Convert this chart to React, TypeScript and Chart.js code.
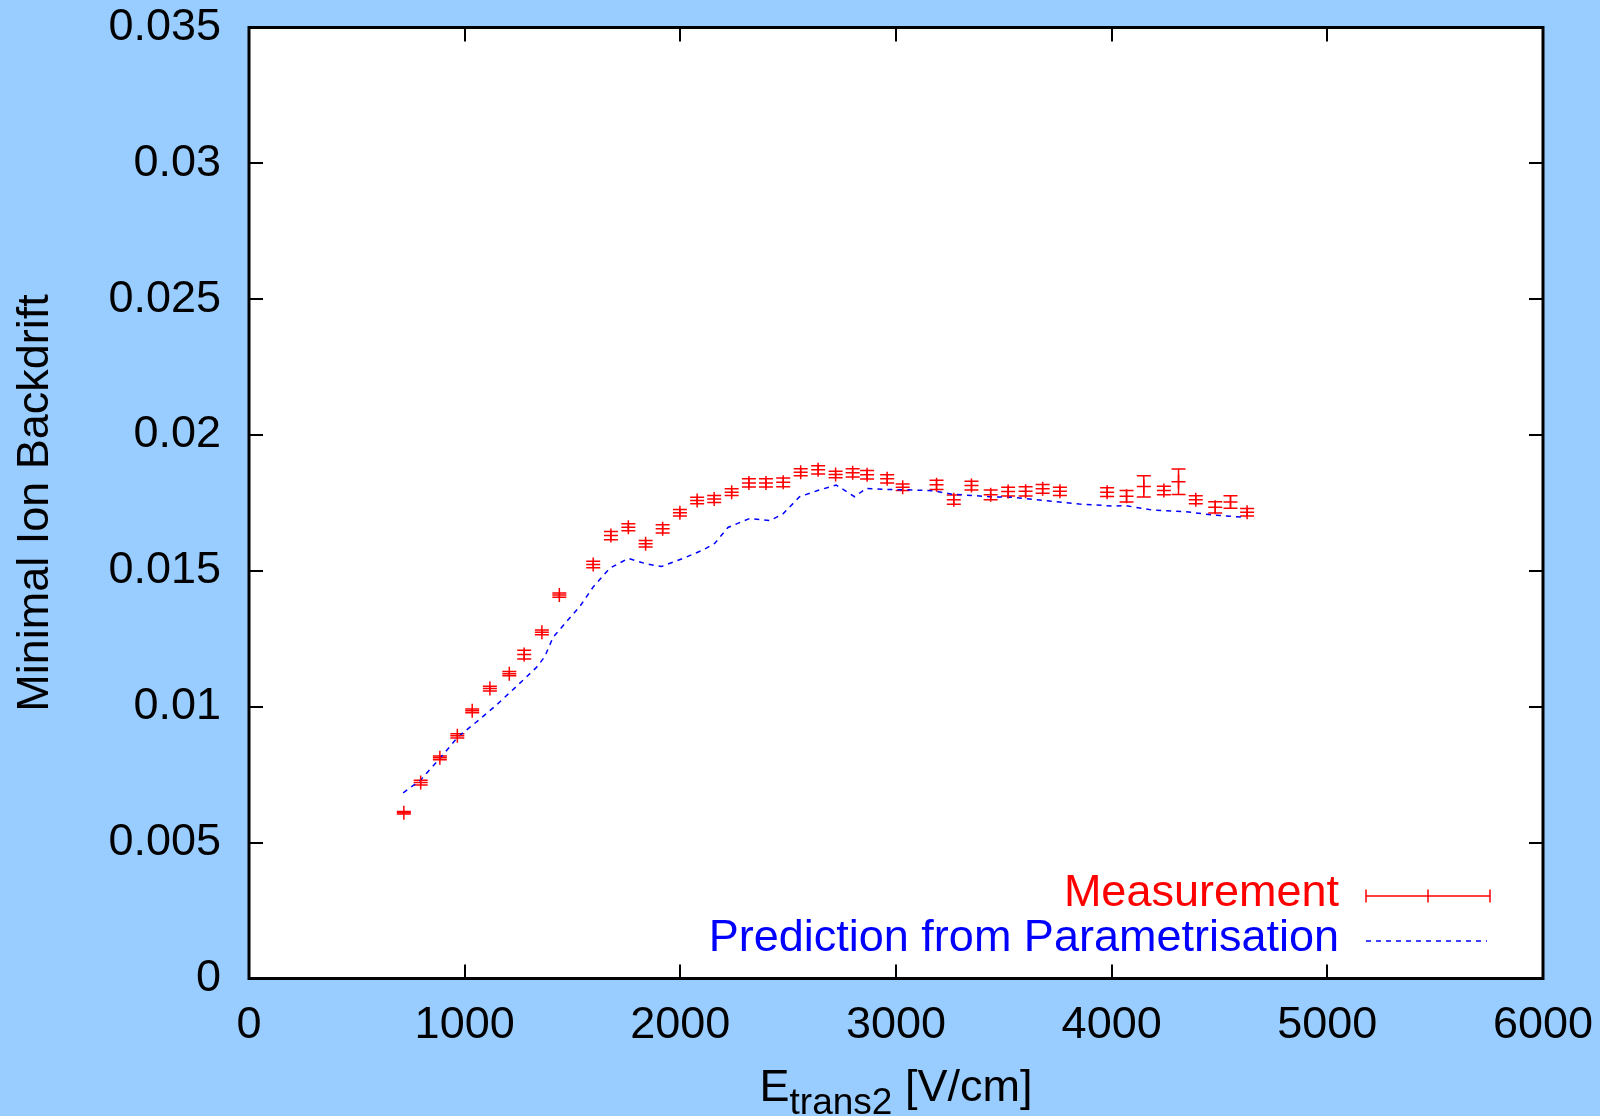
import React, { useEffect, useRef } from "react";
import { Chart, registerables } from "chart.js";

Chart.register(...registerables);

// Measurement (E_trans2 in V/cm, minimal ion backdrift, error)
const measX = [718, 796, 885, 966, 1035, 1117, 1207, 1276, 1358, 1439, 1596, 1678, 1759, 1839, 1918, 1998, 2078, 2157, 2238, 2318, 2397, 2477, 2558, 2639, 2720, 2799, 2866, 2959, 3031, 3188, 3268, 3350, 3439, 3520, 3601, 3680, 3760, 3979, 4069, 4149, 4242, 4310, 4390, 4480, 4551, 4628];
const measY = [0.0061, 0.00721, 0.00812, 0.00893, 0.00985, 0.01067, 0.01122, 0.01192, 0.01274, 0.01411, 0.01524, 0.0163, 0.01661, 0.016, 0.01655, 0.01714, 0.01759, 0.01765, 0.0179, 0.01824, 0.01824, 0.01826, 0.01863, 0.01872, 0.01855, 0.01861, 0.01854, 0.01839, 0.01808, 0.01817, 0.01762, 0.01814, 0.0178, 0.01792, 0.01793, 0.01802, 0.01793, 0.0179, 0.01775, 0.01811, 0.01796, 0.01828, 0.01762, 0.01734, 0.01754, 0.01716];
const measErr = [0.00005, 0.00009, 0.00007, 0.00008, 0.00007, 0.00009, 0.00008, 0.00016, 0.00009, 0.00008, 0.00012, 0.00015, 0.00013, 0.00012, 0.00015, 0.00012, 0.00012, 0.00013, 0.00012, 0.00015, 0.00015, 0.00016, 0.00013, 0.00015, 0.00012, 0.00015, 0.00016, 0.00015, 0.00012, 0.00017, 0.00017, 0.00016, 0.00018, 0.00016, 0.00017, 0.00016, 0.00015, 0.00016, 0.00021, 0.00039, 0.00016, 0.00047, 0.00015, 0.00021, 0.00023, 0.00014];

// Prediction from parametrisation
const predX = [715, 795, 885, 970, 1070, 1148, 1255, 1333, 1371, 1410, 1472, 1533, 1595, 1673, 1758, 1843, 1912, 2012, 2105, 2159, 2221, 2321, 2414, 2476, 2553, 2645, 2723, 2808, 2862, 2955, 3078, 3171, 3263, 3372, 3433, 3541, 3711, 3850, 4004, 4066, 4189, 4345, 4468, 4623];
const predY = [0.00683, 0.0073, 0.0081, 0.0089, 0.00954, 0.01007, 0.01086, 0.01145, 0.01184, 0.01256, 0.01313, 0.01368, 0.0144, 0.0151, 0.01546, 0.01526, 0.01516, 0.01546, 0.01577, 0.01601, 0.0166, 0.01693, 0.01685, 0.0171, 0.01773, 0.01798, 0.01816, 0.01773, 0.01804, 0.018, 0.01798, 0.01795, 0.01782, 0.01777, 0.01773, 0.01771, 0.01757, 0.01746, 0.01739, 0.0174, 0.01724, 0.01718, 0.01706, 0.01697];

const xTicks = [0, 1000, 2000, 3000, 4000, 5000, 6000];
const xTickLabels = ["0", "1000", "2000", "3000", "4000", "5000", "6000"];
const yTicks = [0, 0.005, 0.01, 0.015, 0.02, 0.025, 0.03, 0.035];
const yTickLabels = ["0", "0.005", "0.01", "0.015", "0.02", "0.025", "0.03", "0.035"];

const yTitle = "Minimal Ion Backdrift";
const xTitleMain = "E";
const xTitleSub = "trans2";
const xTitleRest = " [V/cm]";
const legendLabels = ["Measurement", "Prediction from Parametrisation"];

const FONT = "'Liberation Sans', Arial, Helvetica, sans-serif";
const BG = "#99ccff";
const RED = "#ff0000";
const BLUE = "#0000ff";

const decorPlugin = {
  id: "decor",
  beforeDraw(chart: any) {
    const { ctx, chartArea: a, width, height } = chart;
    ctx.save();
    ctx.fillStyle = BG;
    ctx.fillRect(0, 0, width, height);
    ctx.fillStyle = "#ffffff";
    ctx.fillRect(a.left, a.top, a.right - a.left, a.bottom - a.top);
    ctx.restore();
  },
  beforeDatasetsDraw(chart: any) {
    const { ctx } = chart;
    const xs = chart.scales.x;
    const ys = chart.scales.y;
    ctx.save();
    ctx.strokeStyle = RED;
    ctx.lineWidth = 1.5;
    ctx.beginPath();
    for (let i = 0; i < measX.length; i++) {
      const px = xs.getPixelForValue(measX[i]);
      const p1 = ys.getPixelForValue(measY[i] - measErr[i]);
      const p2 = ys.getPixelForValue(measY[i] + measErr[i]);
      ctx.moveTo(px, p1);
      ctx.lineTo(px, p2);
      ctx.moveTo(px - 7, p1);
      ctx.lineTo(px + 7, p1);
      ctx.moveTo(px - 7, p2);
      ctx.lineTo(px + 7, p2);
    }
    ctx.stroke();
    ctx.restore();
  },
  afterDraw(chart: any) {
    const { ctx, chartArea: a } = chart;
    const xs = chart.scales.x;
    const ys = chart.scales.y;
    ctx.save();
    // inward ticks on all four sides
    ctx.strokeStyle = "#000";
    ctx.lineWidth = 2;
    ctx.beginPath();
    const TL = 14;
    xTicks.forEach((v) => {
      const px = Math.round(xs.getPixelForValue(v));
      if (px <= a.left + 1 || px >= a.right - 1) return;
      ctx.moveTo(px, a.bottom);
      ctx.lineTo(px, a.bottom - TL);
      ctx.moveTo(px, a.top);
      ctx.lineTo(px, a.top + TL);
    });
    yTicks.forEach((v) => {
      const py = Math.round(ys.getPixelForValue(v));
      if (py <= a.top + 1 || py >= a.bottom - 1) return;
      ctx.moveTo(a.left, py);
      ctx.lineTo(a.left + TL, py);
      ctx.moveTo(a.right, py);
      ctx.lineTo(a.right - TL, py);
    });
    ctx.stroke();
    // border
    ctx.lineWidth = 3;
    ctx.strokeRect(a.left, a.top, a.right - a.left, a.bottom - a.top);

    // y title
    ctx.save();
    ctx.translate(36, 503);
    ctx.rotate(-Math.PI / 2);
    ctx.fillStyle = "#000";
    ctx.font = `45px ${FONT}`;
    ctx.textAlign = "center";
    ctx.textBaseline = "middle";
    ctx.fillText(yTitle, 0, 0);
    ctx.restore();

    // x title with subscript
    ctx.fillStyle = "#000";
    ctx.textBaseline = "alphabetic";
    ctx.textAlign = "left";
    const mainFont = `45px ${FONT}`;
    const subFont = `37px ${FONT}`;
    ctx.font = mainFont;
    const w1 = ctx.measureText(xTitleMain).width;
    const w3 = ctx.measureText(xTitleRest).width;
    ctx.font = subFont;
    const w2 = ctx.measureText(xTitleSub).width;
    const total = w1 + w2 + w3;
    let tx = 896 - total / 2;
    const base = 1101;
    ctx.font = mainFont;
    ctx.fillText(xTitleMain, tx, base);
    tx += w1;
    ctx.font = subFont;
    ctx.fillText(xTitleSub, tx, base + 13);
    tx += w2;
    ctx.font = mainFont;
    ctx.fillText(xTitleRest, tx, base);

    // legend
    ctx.font = `45px ${FONT}`;
    ctx.textAlign = "right";
    ctx.fillStyle = RED;
    ctx.fillText(legendLabels[0], 1339, 906);
    ctx.fillStyle = BLUE;
    ctx.fillText(legendLabels[1], 1339, 951);

    ctx.strokeStyle = RED;
    ctx.lineWidth = 1.5;
    ctx.beginPath();
    const ly = 896;
    ctx.moveTo(1366, ly);
    ctx.lineTo(1490, ly);
    ctx.moveTo(1366, ly - 6.5);
    ctx.lineTo(1366, ly + 6.5);
    ctx.moveTo(1490, ly - 6.5);
    ctx.lineTo(1490, ly + 6.5);
    ctx.moveTo(1428, ly - 6.5);
    ctx.lineTo(1428, ly + 6.5);
    ctx.moveTo(1421, ly);
    ctx.lineTo(1435, ly);
    ctx.stroke();

    ctx.strokeStyle = BLUE;
    ctx.lineWidth = 1.5;
    ctx.setLineDash([5, 5]);
    ctx.beginPath();
    ctx.moveTo(1366, 941);
    ctx.lineTo(1487, 941);
    ctx.stroke();
    ctx.setLineDash([]);
    ctx.restore();
  },
};

export default function App() {
  const ref = useRef<HTMLCanvasElement | null>(null);
  useEffect(() => {
    document.body.style.margin = "0";
    const canvas = ref.current;
    if (!canvas) return;
    const chart = new Chart(canvas, {
      type: "scatter",
      data: {
        datasets: [
          {
            label: legendLabels[0],
            data: measX.map((x, i) => ({ x, y: measY[i] })),
            pointStyle: "cross",
            pointRadius: 7,
            pointHoverRadius: 7,
            borderColor: RED,
            backgroundColor: RED,
            pointBorderWidth: 1.5,
            showLine: false,
          } as any,
          {
            label: legendLabels[1],
            data: predX.map((x, i) => ({ x, y: predY[i] })),
            showLine: true,
            borderColor: BLUE,
            backgroundColor: BLUE,
            borderWidth: 1.5,
            borderDash: [5, 5],
            pointRadius: 0,
            pointHoverRadius: 0,
            tension: 0,
            fill: false,
          } as any,
        ],
      },
      options: {
        responsive: false,
        animation: false,
        devicePixelRatio: 1,
        events: [],
        layout: { padding: { left: 0, right: 57, top: 27.5, bottom: 0 } },
        plugins: {
          legend: { display: false },
          tooltip: { enabled: false },
          title: { display: false },
        },
        scales: {
          x: {
            type: "linear",
            min: 0,
            max: 6000,
            afterBuildTicks: (s: any) => {
              s.ticks = xTicks.map((v) => ({ value: v }));
            },
            afterFit: (s: any) => {
              s.height = 137.5;
              s.paddingLeft = 0;
              s.paddingRight = 0;
              s.paddingTop = 0;
              s.paddingBottom = 0;
            },
            grid: { display: false, drawTicks: false },
            border: { display: false },
            ticks: {
              padding: 20,
              color: "#000",
              maxRotation: 0,
              autoSkip: false,
              font: { family: FONT, size: 45 },
              callback: (v: any) => {
                const i = xTicks.indexOf(Number(v));
                return i >= 0 ? xTickLabels[i] : "";
              },
            },
          },
          y: {
            type: "linear",
            min: 0,
            max: 0.035,
            afterBuildTicks: (s: any) => {
              s.ticks = yTicks.map((v) => ({ value: v }));
            },
            afterFit: (s: any) => {
              s.width = 249;
              s.paddingLeft = 0;
              s.paddingRight = 0;
              s.paddingTop = 0;
              s.paddingBottom = 0;
            },
            grid: { display: false, drawTicks: false },
            border: { display: false },
            ticks: {
              padding: 28,
              color: "#000",
              autoSkip: false,
              font: { family: FONT, size: 45 },
              callback: (v: any) => {
                const i = yTicks.findIndex((t) => Math.abs(t - Number(v)) < 1e-9);
                return i >= 0 ? yTickLabels[i] : "";
              },
            },
          },
        },
      },
      plugins: [decorPlugin],
    });
    return () => chart.destroy();
  }, []);
  return (
    <div style={{ position: "absolute", left: 0, top: 0, width: 1600, height: 1116 }}>
      <canvas ref={ref} width={1600} height={1116} style={{ display: "block", width: 1600, height: 1116 }} />
    </div>
  );
}
